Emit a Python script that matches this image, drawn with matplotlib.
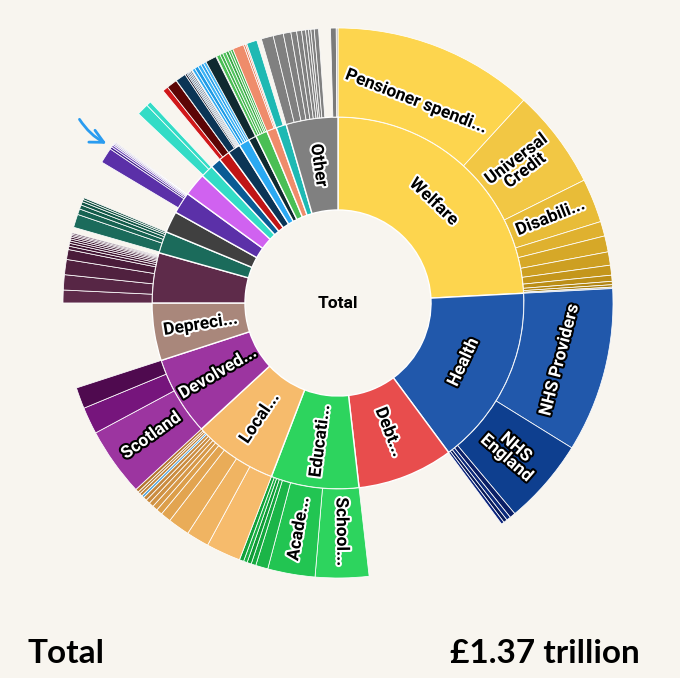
import matplotlib.pyplot as plt
import matplotlib.patheffects as pe
import numpy as np

BG = '#f8f5ef'

# inner ring: spending areas, £bn
categories = ['Welfare', 'Health', 'Debt interest', 'Education', 'Local government',
              'Devolved governments', 'Depreciation', 'Defence', 'Home Office',
              'Justice', 'Transport', 'Business', 'Energy', 'Foreign Office',
              'Housing', 'Science', 'Work and Pensions', 'Culture', 'Environment',
              'Cabinet Office', 'Treasury', 'Other']
values = [331.1, 215.0, 114.2, 104.7, 100.1, 94.0, 68.5, 59.7, 25.9, 25.5, 25.9,
          27.4, 15.2, 12.6, 13.3, 15.2, 12.6, 9.5, 14.1, 11.8, 12.2, 61.6]
labels = ['Welfare', 'Health', 'Debt...', 'Educati...', 'Local...', 'Devolved...',
          'Depreci...', '', '', '', '', '', '', '', '', '', '', '', '', '', '', 'Other']
colors = ['#fdd54e', '#2158ab', '#e84d4d', '#2dd45e', '#f6bb6c', '#9c35a0', '#a9877b',
          '#5e2b4a', '#1b6b5b', '#404040', '#5b30a8', '#d062f0', '#33dcc6', '#0a5b94',
          '#c01515', '#0b3556', '#2ba9f2', '#0f2a30', '#4abf55', '#ef8c6b', '#1eb9b3',
          '#808080']

# outer ring: sub-items per area, £bn (None = part not broken down)
children = {
    'Welfare': [161.7, 79.9, 35.4, 11.8, 12.9, 10.7, 8.0, 4.9, 2.7, 1.9, 1.1],
    'Health': [132.4, 69.3, 4.6, 3.4, 3.0, 2.3],
    'Education': [43.0, 38.1, 9.9, 3.8, 3.4, 3.0, 3.4],
    'Local government': [27.8, 18.3, 17.5, 8.4, 4.9, 4.2, 3.8, 3.4, 3.0, 1.9, 2.3, 1.9, 2.7],
    'Devolved governments': [55.2, 21.7, 17.1],
    'Defence': [10.3, 12.2, 12.2, 8.0, 2.7, 2.3, 1.9, 1.7, 1.5, 1.3, 1.1, 1.0],
    'Home Office': [None, 10.7, 4.6, 3.4, 2.7, 1.9, 1.5],
    'Transport': [None, 12.5, 1.9, 1.7, 1.3, 1.1, 0.8],
    'Energy': [None, 9.5, 3.8],
    'Housing': [4.6, 8.4],
    'Science': [8.4, 1.5, 1.1, 1.1, 1.1, 1.1],
    'Work and Pensions': [2.3, 3.0, 2.7, 2.3, 2.3],
    'Culture': [8.8],
    'Environment': [3.0, 2.3, 2.7, 2.3, 1.9, 1.9],
    'Cabinet Office': [9.1, 1.5, 1.1],
    'Treasury': [8.4],
    'Other': [9.7, 8.2, 6.1, 4.6, 4.0, 3.2, 2.3, 1.9, 2.7, 3.4, None, 4.6, 1.4],
}
# size of the parts not broken down (None entries), £bn
gaps = {'Home Office': [1.1], 'Transport': [6.1], 'Energy': [1.1], 'Other': [9.5]}

child_labels = {
    'Welfare': ['Pensioner spendi...', 'Universal\nCredit', 'Disabili...'],
    'Health': ['NHS Providers', 'NHS\nEngland'],
    'Education': ['School...', 'Acade...'],
    'Devolved governments': ['Scotland'],
}
child_colors = {
    'Welfare': ['#fdd54e', '#f2c744', '#e8bc38', '#dfb12f', '#d6a828', '#cd9f22',
                '#c4961c', '#bb8e17', '#b28613', '#a88010', '#a3a6ab'],
    'Health': ['#2158ab', '#0e3f8f', '#0b1f66', '#0d2a7a', '#081a5a', '#0b237a'],
    'Education': ['#2dd45e', '#22c552', '#1bb548', '#14a83e', '#0f9c36', '#18b043', '#11a23a'],
    'Local government': ['#f6bb6c', '#f0b462', '#e9ac58', '#e2a450', '#dc9e4a', '#d69848',
                         '#d09244', '#ca8c40', '#c4863c', '#4aa3df', '#c08238', '#b97c34',
                         '#b37630'],
    'Devolved governments': ['#9c35a0', '#76157c', '#4f0a4f'],
    'Defence': ['#5e2b4a', '#572645', '#50213f', '#4a1c3a', '#431735', '#3e1230',
                '#3a0e2c', '#360b29', '#330826', '#300624', '#2d0422', '#2a0220'],
    'Home Office': [None, '#1b6b5b', '#176352', '#145c4b', '#115545', '#0f4f40', '#0d493b'],
    'Transport': [None, '#5b30a8', '#3e1f8a', '#6b45b5', '#8f79c6', '#b4a5d8', '#9a8fb0'],
    'Energy': [None, '#33dcc6', '#33dcc6'],
    'Housing': ['#d0181a', '#5c0505'],
    'Science': ['#0b3556', '#1a1a2e', '#123f66', '#0b2540', '#1d3f66', '#3a4d66'],
    'Work and Pensions': ['#2ba9f2', '#1e9be6', '#3bb3f5', '#2aa0ea', '#46b8f5'],
    'Culture': ['#0f2a30'],
    'Environment': ['#4abf55', '#3fb04a', '#55c460', '#38a844', '#4cbc57', '#43b34f'],
    'Cabinet Office': ['#ef8c6b', '#e07a5a', '#f29a7c'],
    'Treasury': ['#1eb9b3'],
    'Other': ['#808080'] * 10 + [None, '#7a7a7a', '#b4b4b4'],
}

dark_fill = {'Health', 'Devolved...', 'NHS Providers', 'NHS\nEngland', 'Scotland'}
tangential = {'Welfare', 'Health', 'Pensioner spendi...', 'NHS Providers'}
label_r_fix = {'Pensioner spendi...': 216}

R0, R1, R2 = 93, 186, 275
LABEL_R1, LABEL_R2 = 139, 229

fig = plt.figure(figsize=(6.8, 6.78), dpi=100)
fig.patch.set_facecolor(BG)
ax = fig.add_axes([38 / 680, 75 / 678, 600 / 680, 600 / 678], projection='polar')
ax.set_theta_zero_location('N')
ax.set_theta_direction(-1)
ax.set_ylim(0, 300)
ax.axis('off')

total = sum(values)
to_rad = 2 * np.pi / total


def put_label(text, theta, r):
    # theta in radians clockwise from top
    phi = 90 - np.degrees(theta)
    rot = phi - 90 if text in tangential else phi
    rot = (rot + 90) % 180 - 90
    fg, halo = ('white', 'black') if text in dark_fill else ('black', 'white')
    ax.text(theta, label_r_fix.get(text, r), text, rotation=rot, rotation_mode='anchor',
            ha='center', va='center', fontsize=12.5, fontweight='bold', family='Roboto',
            color=fg, linespacing=0.95,
            path_effects=[pe.withStroke(linewidth=3, foreground=halo)])


start = 0.0
for name, val, lab, col in zip(categories, values, labels, colors):
    width = val * to_rad
    ax.bar(start + width / 2, R1 - R0, width=width, bottom=R0, color=col,
           edgecolor='white', linewidth=1.0)
    if lab:
        put_label(lab, start + width / 2, LABEL_R1)

    if name in children:
        gap_vals = iter(gaps.get(name, []))
        sub_labels = child_labels.get(name, [])
        c_start = start
        for j, (cv, cc) in enumerate(zip(children[name], child_colors[name])):
            if cv is None:
                c_start += next(gap_vals) * to_rad
                continue
            cw = cv * to_rad
            ax.bar(c_start + cw / 2, R2 - R1, width=cw, bottom=R1, color=cc,
                   edgecolor='white', linewidth=0.55)
            if j < len(sub_labels):
                put_label(sub_labels[j], c_start + cw / 2, LABEL_R2)
            c_start += cw
    start += width

ax.text(0, 0, 'Total', ha='center', va='center', fontsize=12.5,
        fontweight='bold', family='Roboto', color='black')

# hand-drawn pointer
ax.annotate('', xy=(109, 533), xycoords='figure pixels', xytext=(78, 561),
            textcoords='figure pixels',
            arrowprops=dict(arrowstyle='->', color='#2a9cf0', lw=2,
                            connectionstyle='arc3,rad=0.15', mutation_scale=24))

fig.text(27 / 680, 15 / 678, 'Total', fontsize=24, fontweight='bold',
         family='Lato', va='baseline', ha='left')
fig.text(640 / 680, 15 / 678, '£1.37 trillion', fontsize=24, fontweight='bold',
         family='Lato', va='baseline', ha='right')

fig.savefig('out.png', dpi=100, facecolor=BG)
